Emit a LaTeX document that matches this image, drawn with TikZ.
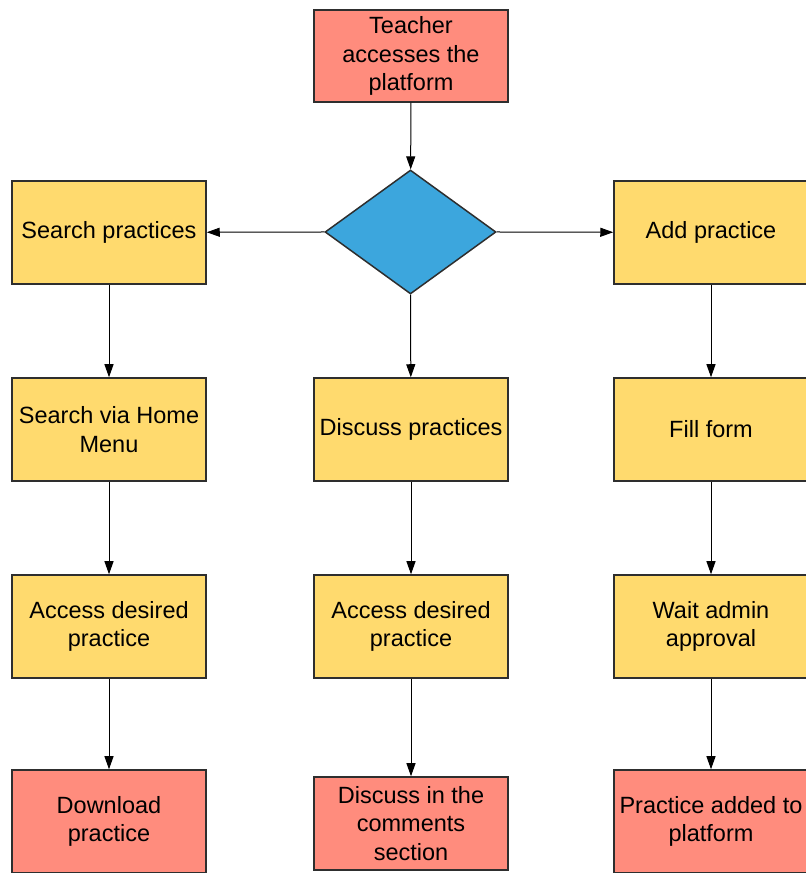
\documentclass[tikz,border=0pt]{standalone}
\usepackage{fontspec}
\setmainfont{Liberation Sans}
\usetikzlibrary{shapes.geometric, arrows.meta}
\definecolor{endred}{HTML}{FF8C7D}
\definecolor{stepyellow}{HTML}{FFDA6E}
\definecolor{choiceblue}{HTML}{3CA6DD}
\definecolor{rim}{HTML}{2E2E2E}
\begin{document}
\begin{tikzpicture}[x=1pt, y=1pt,
    every node/.style={font=\fontsize{23.5}{28.5}\selectfont, align=center, inner sep=0pt},
    box/.style={draw=rim, line width=1.5pt, minimum width=194pt, minimum height=103pt},
    endbox/.style={box, fill=endred},
    stepbox/.style={box, fill=stepyellow},
    flow/.style={-{Triangle[length=13pt, width=9pt]}, line width=1pt}]
    % rand
    \useasboundingbox (0,0) rectangle (806,873);
    \clip (0,0) rectangle (806,873);
    % start
    \node[endbox, minimum height=92pt] (teacher) at (411,817) {Teacher\\accesses the\\platform};
    % keuze
    \node[diamond, draw=rim, line width=1.5pt, fill=choiceblue, minimum width=171pt, minimum height=124pt] (choice) at (410.5,641) {};
    % linker kolom
    \node[stepbox] (search) at (109,640.5) {Search practices};
    \node[stepbox] (home) at (109,443.5) {Search via Home\\Menu};
    \node[stepbox] (accessl) at (109,246.5) {Access desired\\practice};
    \node[endbox] (download) at (109,51.5) {Download\\practice};
    % middelste kolom
    \node[stepbox] (discuss) at (411,443.5) {Discuss practices};
    \node[stepbox] (accessm) at (411,246.5) {Access desired\\practice};
    \node[endbox, minimum height=93pt] (comments) at (411,49.5) {Discuss in the\\comments\\section};
    % rechter kolom
    \node[stepbox] (add) at (711,640.5) {Add practice};
    \node[stepbox] (form) at (711,443.5) {Fill form};
    \node[stepbox] (wait) at (711,246.5) {Wait admin\\approval};
    \node[endbox] (added) at (711,51.5) {Practice added to\\platform};
    % pijlen
    \draw[flow] (teacher) -- (choice);
    \draw[flow] (choice.west) -- (search);
    \draw[flow] (choice.east) -- (add);
    \draw[flow] (choice.south) -- (discuss);
    \draw[flow] (search) -- (home);
    \draw[flow] (home) -- (accessl);
    \draw[flow] (accessl) -- (download);
    \draw[flow] (discuss) -- (accessm);
    \draw[flow] (accessm) -- (comments);
    \draw[flow] (add) -- (form);
    \draw[flow] (form) -- (wait);
    \draw[flow] (wait) -- (added);
\end{tikzpicture}
\end{document}
